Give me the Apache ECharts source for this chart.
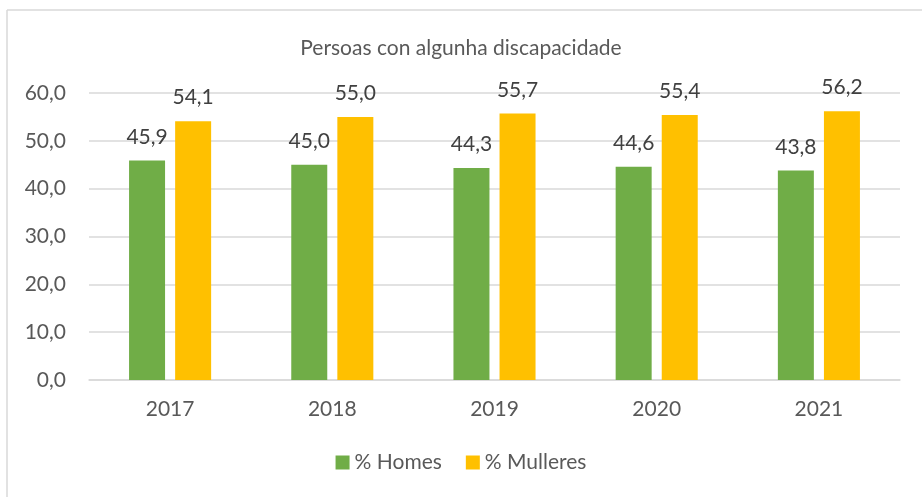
<!DOCTYPE html>
<html>
<head>
<meta charset="utf-8">
<script src="https://cdn.jsdelivr.net/npm/echarts@6/dist/echarts.min.js"></script>
<style>
  html, body { margin: 0; padding: 0; background: #fff; }
  #chart { width: 922px; height: 497px; }
</style>
</head>
<body>
<div id="chart"></div>
<script>
var years = ['2017', '2018', '2019', '2020', '2021'];
var homes = [45.9, 45.0, 44.3, 44.6, 43.8];
var mulleres = [54.1, 55.0, 55.7, 55.4, 56.2];

var font = 'Lato, "Open Sans", sans-serif';
var grey = '#595959';
var fmt = function (v) { return Number(v).toFixed(1).replace('.', ','); };

var chart = echarts.init(document.getElementById('chart'));
chart.setOption({
    animation: false,
    textStyle: { fontFamily: font },
    title: {
        text: 'Persoas con algunha discapacidade',
        left: 'center',
        top: 33,
        textStyle: { color: grey, fontSize: 21, fontWeight: 'normal', fontFamily: font }
    },
    legend: {
        data: ['% Homes', '% Mulleres'],
        bottom: 19,
        left: 'center',
        itemWidth: 14,
        itemHeight: 14,
        itemGap: 24,
        icon: 'rect',
        textStyle: { color: grey, fontSize: 21, fontFamily: font }
    },
    grid: { left: 89, right: 22, top: 93, bottom: 117 },
    graphic: [
        { type: 'line', shape: { x1: 7, y1: 10, x2: 922, y2: 10 }, style: { stroke: '#d9d9d9', lineWidth: 1.5 } },
        { type: 'line', shape: { x1: 7, y1: 10, x2: 7, y2: 497 }, style: { stroke: '#d9d9d9', lineWidth: 1.5 } }
    ],
    xAxis: {
        type: 'category',
        data: years,
        axisTick: { show: false },
        axisLine: { lineStyle: { color: '#d9d9d9', width: 1.5 } },
        axisLabel: { color: grey, fontSize: 21, margin: 19, fontFamily: font }
    },
    yAxis: {
        type: 'value',
        min: 0,
        max: 60,
        interval: 10,
        axisLine: { show: false },
        axisTick: { show: false },
        splitLine: { lineStyle: { color: '#d9d9d9', width: 1.5 } },
        axisLabel: { color: grey, fontSize: 21, margin: 23, fontFamily: font, formatter: fmt }
    },
    series: [
        {
            name: '% Homes',
            type: 'bar',
            data: homes,
            barWidth: 36,
            barGap: '28%',
            itemStyle: { color: '#70ad47' },
            label: { show: true, position: 'top', distance: 13, color: '#404040', fontSize: 21, fontFamily: font, formatter: function (p) { return fmt(p.value); } }
        },
        {
            name: '% Mulleres',
            type: 'bar',
            data: mulleres,
            barWidth: 36,
            itemStyle: { color: '#ffc000' },
            label: { show: true, position: 'top', distance: 13, color: '#404040', fontSize: 21, fontFamily: font, formatter: function (p) { return fmt(p.value); } }
        }
    ]
});
</script>
</body>
</html>
